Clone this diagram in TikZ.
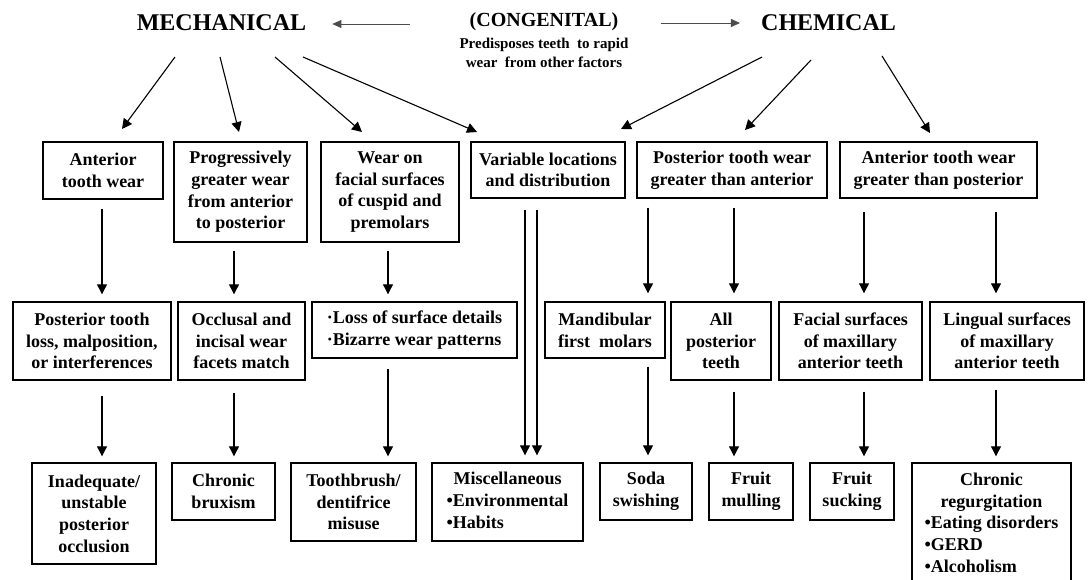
\documentclass[tikz,border=0pt]{standalone}
\usepackage{fontspec}
\setmainfont{Liberation Serif}
\usetikzlibrary{arrows.meta,calc}
\newcommand\rfnt{\bfseries\fontsize{18}{21.7}\selectfont}
\newcommand\bx[6]{\node[box,minimum width={#3-#2},minimum height={#5-#4}] (#1) at ({(#2+#3)/2},{(#4+#5)/2}) {#6};}
\begin{document}
\begin{tikzpicture}[x=1pt,y=-1pt,
  box/.style={draw, line width=1.4pt, inner sep=0pt, align=center, font=\rfnt},
  arr/.style={line width=1.1pt, -{Triangle[width=10pt,length=10pt]}},
  harr/.style={line width=0.8pt, black!70, -{Triangle[width=8pt,length=9pt]}},
  head/.style={inner sep=0pt, font=\bfseries\fontsize{24}{28}\selectfont},
]
\useasboundingbox (0,0) rectangle (1091,579);
\clip (0,0) rectangle (1091,579);
\fill[white] (0,0) rectangle (1091,579);

% headings
\node[head] (mech) at (221.5,23) {MECHANICAL};
\node[head] (chem) at (828.5,23) {CHEMICAL};
\node[inner sep=0pt, font=\bfseries\fontsize{20}{24}\selectfont] (cong) at (544,22) {(CONGENITAL)};
\node[inner sep=0pt, align=center, font=\bfseries\fontsize{15}{19}\selectfont] (pred) at (544,53) {Predisposes teeth~ to rapid\\wear~ from other factors};
\draw[harr] ([xshift=-60pt,yshift=-2pt]cong.west) -- ([xshift=26pt,yshift=-1pt]mech.east);
\draw[harr] ([xshift=43pt,yshift=-1pt]cong.east) -- ([xshift=-21pt]chem.west);

% row 1
\bx{a1}{43}{163}{142}{199}{Anterior\\tooth wear}
\bx{a2}{174}{307}{142}{242}{Progressively\\greater wear\\from anterior\\to posterior}
\bx{a3}{321}{459}{142}{242}{Wear on\\facial surfaces\\of cuspid and\\premolars}
\bx{a4}{471}{625}{142}{198}{Variable locations\\and distribution}
\bx{a5}{637}{827}{142}{198}{Posterior tooth wear\\greater than anterior}
\bx{a6}{840}{1037}{142}{198}{Anterior tooth wear\\greater than posterior}

% row 2
\bx{b1}{13}{171}{302}{380}{Posterior tooth\\loss, malposition,\\or interferences}
\bx{b2}{178}{305}{302}{380}{Occlusal and\\incisal wear\\facets match}
\node[box,align=left,minimum width=205,minimum height=56] (b3) at (414.5,330) {·Loss of surface details\\·Bizarre wear patterns};
\bx{b4}{545}{665}{302}{358}{Mandibular\\first~ molars}
\bx{b5}{671}{771}{302}{380}{All\\posterior\\teeth}
\bx{b6}{779}{922}{302}{380}{Facial surfaces\\of maxillary\\anterior teeth}
\bx{b7}{930}{1084}{302}{380}{Lingual surfaces\\of maxillary\\anterior teeth}

% row 3
\bx{c1}{32}{156}{463}{564}{Inadequate/\\unstable\\posterior\\occlusion}
\bx{c2}{172}{275}{463}{520}{Chronic\\bruxism}
\bx{c3}{291}{416}{463}{541}{Toothbrush/\\dentifrice\\misuse}
\bx{c4}{432}{583}{463}{541}{\begin{tabular}{@{}l@{}}\multicolumn{1}{@{}c@{}}{Miscellaneous}\\•Environmental\\•Habits\end{tabular}}
\bx{c5}{600}{692}{463}{520}{Soda\\swishing}
\bx{c6}{709}{793}{463}{520}{Fruit\\mulling}
\bx{c7}{810}{894}{463}{520}{Fruit\\sucking}
\bx{c8}{912}{1071}{463}{586}{\begin{tabular}{@{}l@{}}\multicolumn{1}{@{}c@{}}{Chronic}\\\multicolumn{1}{@{}c@{}}{regurgitation}\\•Eating disorders\\•GERD\\•Alcoholism\end{tabular}}

% diagonal arrows from headings
\coordinate (m1) at (175,57);  \coordinate (t1) at (122,129);
\coordinate (m2) at (220,57);  \coordinate (t2) at (239,132);
\coordinate (m3) at (275,57);  \coordinate (t3) at (362,132);
\coordinate (m4) at (303,57);  \coordinate (t4) at (477,132);
\coordinate (h1) at (762,57);  \coordinate (u1) at (621,129);
\coordinate (h2) at (811,60);  \coordinate (u2) at (745,130);
\coordinate (h3) at (882,56);  \coordinate (u3) at (930,133);
\draw[arr] (m1) -- (t1);
\draw[arr] (m2) -- (t2);
\draw[arr] (m3) -- (t3);
\draw[arr] (m4) -- (t4);
\draw[arr] (h1) -- (u1);
\draw[arr] (h2) -- (u2);
\draw[arr] (h3) -- (u3);

% vertical arrow columns
\coordinate (X102) at (102,0);
\coordinate (X234) at (234,0);
\coordinate (X388) at (388,0);
\coordinate (X525) at (525,0);
\coordinate (X537) at (537,0);
\coordinate (X648) at (648,0);
\coordinate (X734) at (734,0);
\coordinate (X864) at (864,0);
\coordinate (X996) at (996,0);

\draw[arr, shorten <=9pt, shorten >=7pt] (a1.south -| X102) -- (b1.north -| X102);
\draw[arr, shorten <=8pt, shorten >=7pt] (a2.south -| X234) -- (b2.north -| X234);
\draw[arr, shorten <=8pt, shorten >=7pt] (a3.south -| X388) -- (b3.north -| X388);
\draw[arr, shorten <=11pt, shorten >=7pt] (a4.south -| X525) -- (c4.north -| X525);
\draw[arr, shorten <=11pt, shorten >=7pt] (a4.south -| X537) -- (c4.north -| X537);
\draw[arr, shorten <=9pt, shorten >=8pt] (a5.south -| X648) -- (b4.north -| X648);
\draw[arr, shorten <=9pt, shorten >=8pt] (a5.south -| X734) -- (b5.north -| X734);
\draw[arr, shorten <=13pt, shorten >=8pt] (a6.south -| X864) -- (b6.north -| X864);
\draw[arr, shorten <=13pt, shorten >=8pt] (a6.south -| X996) -- (b7.north -| X996);

\draw[arr, shorten <=15pt, shorten >=6pt] (b1.south -| X102) -- (c1.north -| X102);
\draw[arr, shorten <=12pt, shorten >=6pt] (b2.south -| X234) -- (c2.north -| X234);
\draw[arr, shorten <=10pt, shorten >=6pt] (b3.south -| X388) -- (c3.north -| X388);
\draw[arr, shorten <=8pt, shorten >=7pt] (b4.south -| X648) -- (c5.north -| X648);
\draw[arr, shorten <=11pt, shorten >=6pt] (b5.south -| X734) -- (c6.north -| X734);
\draw[arr, shorten <=11pt, shorten >=6pt] (b6.south -| X864) -- (c7.north -| X864);
\draw[arr, shorten <=9pt, shorten >=6pt] (b7.south -| X996) -- (c8.north -| X996);
\end{tikzpicture}
\end{document}
